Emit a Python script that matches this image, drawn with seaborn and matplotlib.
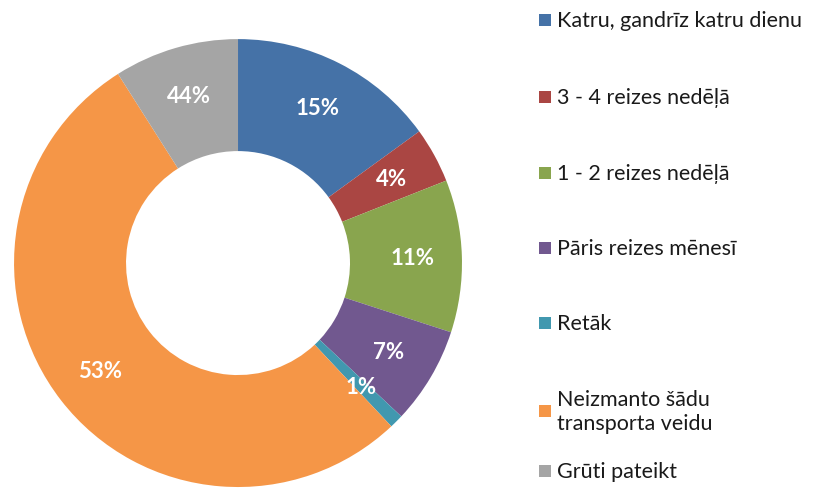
import matplotlib
matplotlib.use("Agg")
import matplotlib.pyplot as plt
from matplotlib.patches import Rectangle
import seaborn as sns

# kategorijas un vērtības (%)
categories = [
    "Katru, gandrīz katru dienu",
    "3 - 4 reizes nedēļā",
    "1 - 2 reizes nedēļā",
    "Pāris reizes mēnesī",
    "Retāk",
    "Neizmanto šādu\ntransporta veidu",
    "Grūti pateikt",
]
shares = [15, 4, 11, 7, 1, 53, 9]
share_labels = ["15%", "4%", "11%", "7%", "1%", "53%", "44%"]
colors = ["#4572a7", "#aa4643", "#89a54e", "#71588f", "#4198af", "#f59647", "#a5a5a5"]

sns.set_theme(style="white")
plt.rcParams["font.family"] = ["Lato", "DejaVu Sans"]

palette = sns.color_palette(colors)

fig = plt.figure(figsize=(8.25, 4.89), dpi=100)
ax = fig.add_axes([0.017, 0.002, 0.543, 0.916])

wedges, texts = ax.pie(
    shares,
    labels=share_labels,
    colors=palette,
    startangle=90,
    counterclock=False,
    radius=1.0,
    labeldistance=0.78,
    wedgeprops=dict(width=0.5, edgecolor="none"),
    textprops=dict(color="white", fontsize=16, fontweight="bold"),
)
for t in texts:
    t.set_ha("center")
    t.set_va("center")
ax.set_xlim(-1, 1)
ax.set_ylim(-1, 1)
ax.set_aspect("equal")
ax.axis("off")

# legenda labajā pusē
legend_y = [21, 98, 174, 249, 324, 412, 472]
W, H = 825, 489
for name, col, yy in zip(categories, palette, legend_y):
    fig.add_artist(Rectangle((539 / W, 1 - (yy + 6) / H), 12 / W, 12 / H,
                             transform=fig.transFigure, color=col, lw=0))
    fig.text(557 / W, 1 - yy / H, name, fontsize=15.5, color="#1a1a1a",
             ha="left", va="center", linespacing=1.3)

fig.savefig("out.png", dpi=100)
